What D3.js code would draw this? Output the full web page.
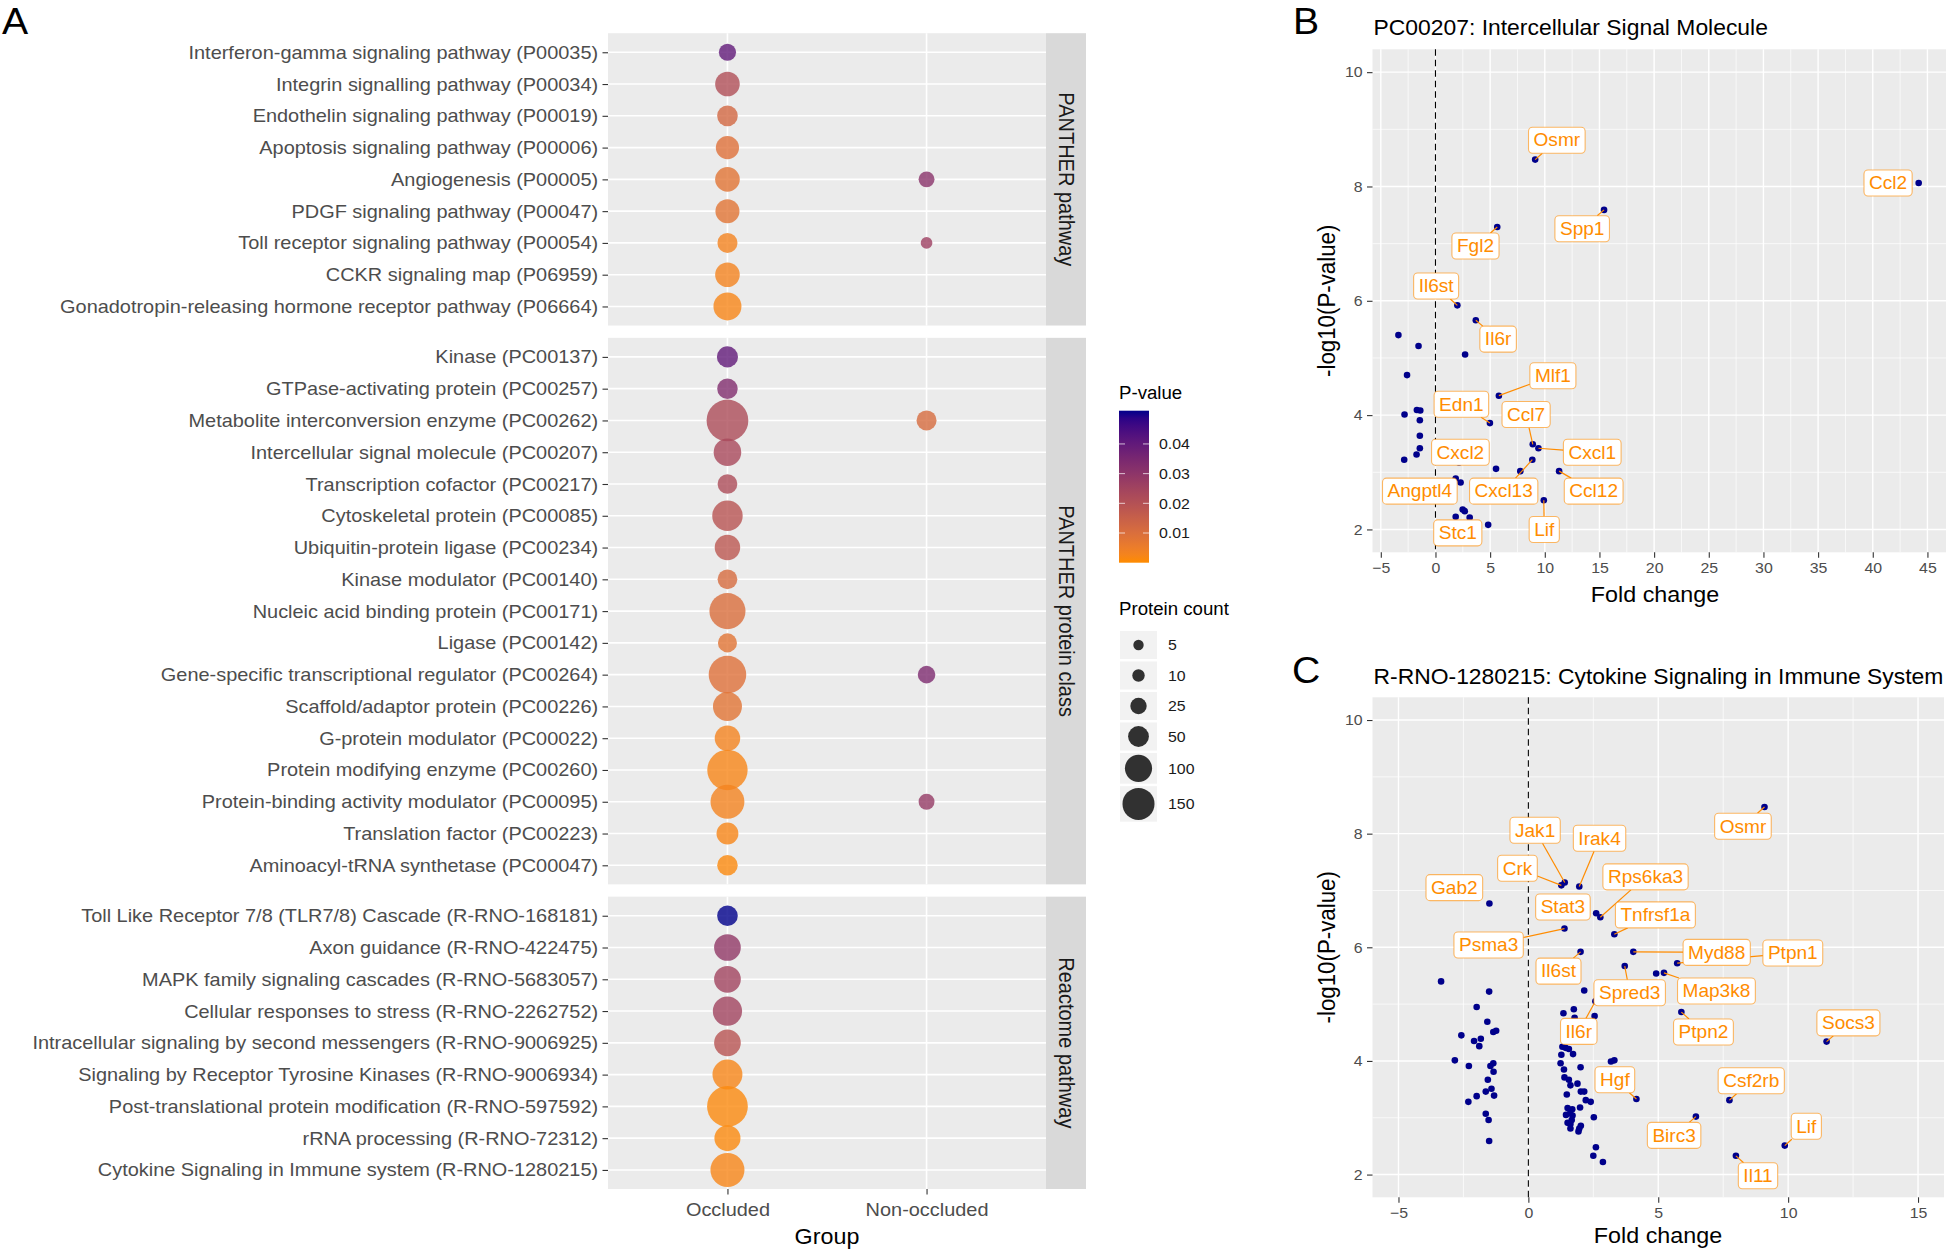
<!DOCTYPE html>
<html><head><meta charset="utf-8">
<script src="https://cdn.jsdelivr.net/npm/d3@7"></script>
<style>body{margin:0;background:#fff}svg{display:block}</style>
</head><body>
<svg id="chart" width="1946" height="1252"></svg>
<script>
// ================= DATA =================
const groups = ["Occluded", "Non-occluded"];
const facetNames = ["PANTHER pathway", "PANTHER protein class", "Reactome pathway"];

const pathwayTerms = [
  "Interferon-gamma signaling pathway (P00035)",
  "Integrin signalling pathway (P00034)",
  "Endothelin signaling pathway (P00019)",
  "Apoptosis signaling pathway (P00006)",
  "Angiogenesis (P00005)",
  "PDGF signaling pathway (P00047)",
  "Toll receptor signaling pathway (P00054)",
  "CCKR signaling map (P06959)",
  "Gonadotropin-releasing hormone receptor pathway (P06664)"
];
const pathwayOccCount = [29, 78, 49, 67, 78, 73, 45, 78, 108];
const pathwayOccP = [0.040, 0.021, 0.012, 0.009, 0.008, 0.008, 0.003, 0.003, 0.002];
const pathwayNonTerms = ["Angiogenesis (P00005)", "Toll receptor signaling pathway (P00054)"];
const pathwayNonCount = [23, 8];
const pathwayNonP = [0.031, 0.026];

const classTerms = [
  "Kinase (PC00137)",
  "GTPase-activating protein (PC00257)",
  "Metabolite interconversion enzyme (PC00262)",
  "Intercellular signal molecule (PC00207)",
  "Transcription cofactor (PC00217)",
  "Cytoskeletal protein (PC00085)",
  "Ubiquitin-protein ligase (PC00234)",
  "Kinase modulator (PC00140)",
  "Nucleic acid binding protein (PC00171)",
  "Ligase (PC00142)",
  "Gene-specific transcriptional regulator (PC00264)",
  "Scaffold/adaptor protein (PC00226)",
  "G-protein modulator (PC00022)",
  "Protein modifying enzyme (PC00260)",
  "Protein-binding activity modulator (PC00095)",
  "Translation factor (PC00223)",
  "Aminoacyl-tRNA synthetase (PC00047)"
];
const classOccCount = [52, 48, 281, 104, 43, 133, 85, 43, 200, 39, 220, 118, 85, 260, 173, 57, 48];
const classOccP = [0.040, 0.033, 0.022, 0.023, 0.022, 0.019, 0.018, 0.011, 0.010, 0.008, 0.009, 0.008, 0.003, 0.002, 0.003, 0.002, 0.001];
const classNonTerms = ["Metabolite interconversion enzyme (PC00262)", "Gene-specific transcriptional regulator (PC00264)", "Protein-binding activity modulator (PC00095)"];
const classNonCount = [45, 31, 23];
const classNonP = [0.011, 0.034, 0.028];

const reactomeTerms = [
  "Toll Like Receptor 7/8 (TLR7/8) Cascade (R-RNO-168181)",
  "Axon guidance (R-RNO-422475)",
  "MAPK family signaling cascades (R-RNO-5683057)",
  "Cellular responses to stress (R-RNO-2262752)",
  "Intracellular signaling by second messengers (R-RNO-9006925)",
  "Signaling by Receptor Tyrosine Kinases (R-RNO-9006934)",
  "Post-translational protein modification (R-RNO-597592)",
  "rRNA processing (R-RNO-72312)",
  "Cytokine Signaling in Immune system (R-RNO-1280215)"
];
const reactomeOccCount = [49, 96, 96, 121, 96, 128, 266, 90, 174];
const reactomeOccP = [0.0512, 0.029, 0.025, 0.025, 0.019, 0.002, 0.001, 0.001, 0.002];
const reactomeNonTerms = [];
const reactomeNonCount = [];
const reactomeNonP = [];

const sizeBreaks = [5, 10, 25, 50, 100, 150];
const pBreaks = [0.01, 0.02, 0.03, 0.04];

// ---- Panel B ----
const bTitle = "PC00207: Intercellular Signal Molecule";
const bGenes = ["Osmr","Ccl2","Spp1","Fgl2","Il6st","Il6r","Mlf1","Edn1","Ccl7","Cxcl1","Cxcl2","Angptl4","Cxcl13","Ccl12","Lif","Stc1"];
const bGeneFold = [9.12, 44.2, 15.42, 5.65, 2.0, 3.69, 5.80, 4.98, 8.9, 9.42, 2.15, 2.30, 8.86, 11.31, 9.91, 1.85];
const bGeneLogP = [8.47, 8.06, 7.59, 7.29, 5.92, 5.66, 4.34, 3.86, 3.49, 3.42, 3.17, 2.82, 3.22, 3.02, 2.51, 2.22];
const bLabelFold = [11.1, 41.4, 13.42, 3.66, 0.06, 5.73, 10.74, 2.37, 8.29, 14.34, 2.28, -1.43, 6.24, 14.47, 9.95, 2.04];
const bLabelLogP = [8.81, 8.06, 7.26, 6.96, 6.26, 5.33, 4.69, 4.19, 4.01, 3.35, 3.35, 2.67, 2.67, 2.67, 2.0, 1.94];
const bOtherFold = [-3.39, -1.55, 2.71, -2.6, -1.70, -1.39, -2.83, -1.43, -1.43, -1.43, -1.73, -2.86, 5.54, 7.76, 1.85, 2.49, 2.68, 3.13, 4.82];
const bOtherLogP = [5.40, 5.21, 5.06, 4.70, 4.09, 4.08, 4.01, 3.91, 3.64, 3.42, 3.31, 3.22, 3.06, 3.02, 2.89, 2.35, 2.32, 2.21, 2.08];
const bXTicks = [-5, 0, 5, 10, 15, 20, 25, 30, 35, 40, 45];
const yTicks = [2, 4, 6, 8, 10];

// ---- Panel C ----
const cTitle = "R-RNO-1280215: Cytokine Signaling in Immune System";
const cGenes = ["Osmr","Jak1","Irak4","Crk","Gab2","Rps6ka3","Stat3","Tnfrsf1a","Psma3","Myd88","Ptpn1","Il6st","Spred3","Map3k8","Il6r","Ptpn2","Socs3","Hgf","Csf2rb","Birc3","Lif","Il11"];
const cGeneFold = [9.09, 1.40, 1.96, 1.27, -1.50, 2.77, 2.61, 3.31, 1.39, 4.04, 5.73, 2.01, 3.71, 5.22, 2.58, 5.89, 11.48, 4.16, 7.74, 6.45, 9.87, 7.99];
const cGeneLogP = [8.47, 7.14, 7.07, 7.09, 6.77, 6.53, 6.60, 6.23, 6.33, 5.92, 5.72, 5.92, 5.67, 5.55, 5.05, 4.86, 4.34, 3.33, 3.31, 3.02, 2.51, 2.33];
const cLabelFold = [8.26, 0.26, 2.74, -0.42, -2.85, 4.51, 1.33, 4.89, -1.53, 7.25, 10.18, 1.16, 3.90, 7.24, 1.94, 6.74, 12.32, 3.33, 8.58, 5.61, 10.70, 8.84];
const cLabelLogP = [8.13, 8.06, 7.92, 7.39, 7.05, 7.24, 6.71, 6.57, 6.04, 5.91, 5.90, 5.58, 5.20, 5.23, 4.52, 4.51, 4.67, 3.67, 3.65, 2.69, 2.85, 1.98];
const cOtherFold = [4.92, -3.36, -1.51, 2.15, -1.99, 1.75, 1.35, 2.55, 1.78, -1.58, -2.58, -1.35, -1.24, -2.09, -1.83, -1.89, 1.31, 1.43, 1.56, 1.27, 1.24, 1.72, -2.83, 3.18, 3.31, -2.29, -1.35, -1.46, -1.34, 2.01, 1.37, 1.39, 1.56, 1.62, -1.56, 1.89, -1.64, -1.42, 2.02, 2.15, -1.32, 1.48, -1.99, 2.21, 2.40, -2.31, 1.51, 1.69, 1.99, 1.45, 1.61, 1.70, -1.64, -1.53, 2.52, 1.51, 1.62, 1.67, 2.02, 1.96, 1.93, 1.62, -1.51, 2.6, 2.5, 2.87];
const cOtherLogP = [5.54, 5.40, 5.22, 5.24, 4.95, 4.91, 4.84, 4.79, 4.76, 4.69, 4.45, 4.51, 4.53, 4.35, 4.39, 4.26, 4.25, 4.23, 4.21, 4.11, 3.96, 4.12, 4.01, 3.99, 4.01, 3.91, 3.96, 3.91, 3.81, 3.89, 3.85, 3.71, 3.67, 3.57, 3.67, 3.60, 3.46, 3.51, 3.46, 3.46, 3.39, 3.41, 3.38, 3.31, 3.28, 3.28, 3.17, 3.15, 3.18, 3.05, 3.08, 3.04, 3.07, 2.96, 3.01, 2.91, 2.89, 2.96, 2.86, 2.81, 2.76, 2.81, 2.59, 2.48, 2.33, 2.22];
const cXTicks = [-5, 0, 5, 10, 15];

// ================= RENDER =================
const SX = 1.06;
const FONT = "'Liberation Sans', Arial, Helvetica, sans-serif";
const svg = d3.select("#chart");
const ORANGE = "#FF8C00";

function addText(parent, x, y, str, o = {}) {
  const t = parent.append("text")
    .attr("transform", `translate(${x},${y}) scale(${SX},1)` + (o.rot ? ` rotate(${o.rot})` : ""))
    .attr("font-family", FONT).attr("font-size", o.size || 15)
    .attr("fill", o.fill || "#000")
    .attr("text-anchor", o.anchor || "start")
    .text(str);
  if (o.dy) t.attr("dy", o.dy);
  return t;
}
function styleAxis(g, size, fill) {
  g.select(".domain").remove();
  g.selectAll(".tick line").attr("stroke", "#333333").attr("stroke-width", 1.1);
  g.selectAll("text").each(function () {
    const t = d3.select(this);
    const x = +t.attr("x") || 0, y = +t.attr("y") || 0;
    t.attr("x", null).attr("y", null)
      .attr("transform", `translate(${x},${y}) scale(${SX},1)`)
      .attr("font-size", size).attr("fill", fill).attr("font-family", FONT);
  });
}

// ---------- Panel A ----------
const color = d3.scaleLinear().domain([0, 0.0512]).range([ORANGE, "#00008B"]).interpolate(d3.interpolateLab);
const rSize = d3.scaleSqrt().domain([5, 150]).range([5.2, 16.0]);

const facets = [
  { name: facetNames[0], terms: pathwayTerms, occC: pathwayOccCount, occP: pathwayOccP, nonT: pathwayNonTerms, nonC: pathwayNonCount, nonP: pathwayNonP },
  { name: facetNames[1], terms: classTerms, occC: classOccCount, occP: classOccP, nonT: classNonTerms, nonC: classNonCount, nonP: classNonP },
  { name: facetNames[2], terms: reactomeTerms, occC: reactomeOccCount, occP: reactomeOccP, nonT: reactomeNonTerms, nonC: reactomeNonCount, nonP: reactomeNonP }
];
const aLeft = 608, aRight = 1046, stripW = 40;
const aTop = 33.2, aBottom = 1189, aGap = 12.3;
const unit = (aBottom - aTop - 2 * aGap) / d3.sum(facets, f => f.terms.length + 0.2);
const xA = d3.scalePoint().domain(groups).range([aLeft, aRight]).padding(0.6);

const gA = svg.append("g");
let yCursor = aTop;
facets.forEach(f => {
  const h = (f.terms.length + 0.2) * unit;
  const yF = d3.scalePoint().domain(f.terms).range([yCursor, yCursor + h]).padding(0.6);
  const g = gA.append("g");
  g.append("rect").attr("x", aLeft).attr("y", yCursor).attr("width", aRight - aLeft).attr("height", h).attr("fill", "#EBEBEB");
  g.selectAll(".hg").data(f.terms).join("line")
    .attr("x1", aLeft).attr("x2", aRight).attr("y1", d => yF(d)).attr("y2", d => yF(d))
    .attr("stroke", "#fff").attr("stroke-width", 1.6);
  g.selectAll(".vg").data(groups).join("line")
    .attr("x1", d => xA(d)).attr("x2", d => xA(d)).attr("y1", yCursor).attr("y2", yCursor + h)
    .attr("stroke", "#fff").attr("stroke-width", 1.6);
  g.selectAll(".occ").data(f.terms.map((t, i) => ({ t, c: f.occC[i], p: f.occP[i] }))).join("circle")
    .attr("cx", xA("Occluded")).attr("cy", d => yF(d.t)).attr("r", d => rSize(d.c))
    .attr("fill", d => color(d.p)).attr("fill-opacity", 0.8);
  g.selectAll(".non").data(f.nonT.map((t, i) => ({ t, c: f.nonC[i], p: f.nonP[i] }))).join("circle")
    .attr("cx", xA("Non-occluded")).attr("cy", d => yF(d.t)).attr("r", d => rSize(d.c))
    .attr("fill", d => color(d.p)).attr("fill-opacity", 0.8);
  g.append("rect").attr("x", aRight).attr("y", yCursor).attr("width", stripW).attr("height", h).attr("fill", "#D9D9D9");
  addText(g, aRight + stripW / 2, yCursor + h / 2, f.name, { size: 20, fill: "#1A1A1A", anchor: "middle", rot: 90, dy: "0.35em" });
  const ax = g.append("g").attr("transform", `translate(${aLeft},0)`)
    .call(d3.axisLeft(yF).tickSize(5.5).tickPadding(4.4));
  styleAxis(ax, 18.8, "#4D4D4D");
  yCursor += h + aGap;
});
const axA = gA.append("g").attr("transform", `translate(0,${aBottom})`)
  .call(d3.axisBottom(xA).tickSize(5.5).tickPadding(8.5));
styleAxis(axA, 18.8, "#4D4D4D");
addText(gA, (aLeft + aRight) / 2, 1244, "Group", { size: 22, anchor: "middle" });
addText(svg, 2, 34, "A", { size: 37 });

// ---------- Legends ----------
const gL = svg.append("g");
addText(gL, 1119, 399, "P-value", { size: 17.6 });
const barTop = 410.7, barBot = 562.7, barX = 1119, barW = 30;
const grad = svg.append("defs").append("linearGradient").attr("id", "pgrad")
  .attr("x1", 0).attr("y1", 1).attr("x2", 0).attr("y2", 0);
d3.range(0, 1.0001, 0.05).forEach(t => grad.append("stop").attr("offset", t).attr("stop-color", color(t * 0.0512)));
gL.append("rect").attr("x", barX).attr("y", barTop).attr("width", barW).attr("height", barBot - barTop).attr("fill", "url(#pgrad)");
const yBar = d3.scaleLinear().domain([0, 0.0512]).range([barBot, barTop]);
pBreaks.forEach(p => {
  gL.append("line").attr("x1", barX).attr("x2", barX + 6).attr("y1", yBar(p)).attr("y2", yBar(p)).attr("stroke", "#fff").attr("stroke-opacity", 0.7).attr("stroke-width", 1);
  gL.append("line").attr("x1", barX + barW - 6).attr("x2", barX + barW).attr("y1", yBar(p)).attr("y2", yBar(p)).attr("stroke", "#fff").attr("stroke-opacity", 0.7).attr("stroke-width", 1);
  addText(gL, 1159, yBar(p), d3.format(".2f")(p), { size: 15, dy: "0.35em", fill: "#1A1A1A" });
});
addText(gL, 1119, 615, "Protein count", { size: 17.6 });
let ky = 631;
sizeBreaks.forEach(s => {
  const d = 2 * rSize(s);
  const kh = Math.max(28, d + 3.5);
  gL.append("rect").attr("x", 1120).attr("y", ky).attr("width", 37).attr("height", kh).attr("fill", "#F2F2F2");
  gL.append("circle").attr("cx", 1138.5).attr("cy", ky + kh / 2).attr("r", rSize(s)).attr("fill", "#000").attr("fill-opacity", 0.8);
  addText(gL, 1168, ky + kh / 2, String(s), { size: 15, dy: "0.35em", fill: "#1A1A1A" });
  ky += kh + 2.5;
});

// ---------- Volcano panels ----------
function volcano(o) {
  const g = svg.append("g");
  const x = d3.scaleLinear().domain(o.xDom).range([o.left, o.right]);
  const y = d3.scaleLinear().domain([1.6, 10.4]).range([o.bottom, o.top]);
  g.append("rect").attr("x", o.left).attr("y", o.top).attr("width", o.right - o.left).attr("height", o.bottom - o.top).attr("fill", "#EBEBEB");
  const xMinor = o.xTicks.slice(0, -1).map((t, i) => (t + o.xTicks[i + 1]) / 2)
    .concat([o.xTicks[o.xTicks.length - 1] + 2.5, o.xTicks[0] - 2.5])
    .filter(v => v > o.xDom[0] && v < o.xDom[1]);
  const yMinor = [3, 5, 7, 9];
  g.selectAll(".xm").data(xMinor).join("line").attr("x1", d => x(d)).attr("x2", d => x(d)).attr("y1", o.top).attr("y2", o.bottom).attr("stroke", "#fff").attr("stroke-width", 0.7);
  g.selectAll(".ym").data(yMinor).join("line").attr("y1", d => y(d)).attr("y2", d => y(d)).attr("x1", o.left).attr("x2", o.right).attr("stroke", "#fff").attr("stroke-width", 0.7);
  g.selectAll(".xM").data(o.xTicks).join("line").attr("x1", d => x(d)).attr("x2", d => x(d)).attr("y1", o.top).attr("y2", o.bottom).attr("stroke", "#fff").attr("stroke-width", 1.4);
  g.selectAll(".yM").data(yTicks).join("line").attr("y1", d => y(d)).attr("y2", d => y(d)).attr("x1", o.left).attr("x2", o.right).attr("stroke", "#fff").attr("stroke-width", 1.4);
  g.append("line").attr("x1", x(0)).attr("x2", x(0)).attr("y1", o.top).attr("y2", o.bottom)
    .attr("stroke", "#000").attr("stroke-width", 1.1).attr("stroke-dasharray", "6.5,4");
  const pts = o.oFold.map((v, i) => ({ f: v, l: o.oLogP[i] }))
    .concat(o.gFold.map((v, i) => ({ f: v, l: o.gLogP[i] })));
  g.selectAll(".pt").data(pts).join("circle").attr("cx", d => x(d.f)).attr("cy", d => y(d.l)).attr("r", 3.3).attr("fill", "#00008B");
  const labs = o.genes.map((n, i) => ({ n, px: x(o.gFold[i]), py: y(o.gLogP[i]), cx: x(o.lFold[i]), cy: y(o.lLogP[i]) }));
  const lg = g.append("g");
  const segG = lg.append("g"), boxG = lg.append("g");
  labs.forEach(d => {
    const t = addText(boxG, d.cx, d.cy, d.n, { size: 18, fill: ORANGE, anchor: "middle", dy: "0.35em" });
    d.w = t.node().getComputedTextLength() * SX + 10;
    d.h = 26;
    t.remove();
  });
  labs.forEach(d => {
    const dx = d.px - d.cx, dy = d.py - d.cy;
    const tt = Math.min(Math.abs(dx) > 1e-6 ? (d.w / 2) / Math.abs(dx) : Infinity, Math.abs(dy) > 1e-6 ? (d.h / 2) / Math.abs(dy) : Infinity);
    if (tt >= 1) return;
    const sx = d.cx + dx * tt, sy = d.cy + dy * tt;
    if (Math.hypot(d.px - sx, d.py - sy) < 8) return;
    segG.append("line").attr("x1", sx).attr("y1", sy).attr("x2", d.px).attr("y2", d.py).attr("stroke", ORANGE).attr("stroke-width", 1.2);
  });
  labs.forEach(d => {
    boxG.append("rect").attr("x", d.cx - d.w / 2).attr("y", d.cy - d.h / 2).attr("width", d.w).attr("height", d.h)
      .attr("rx", 4).attr("fill", "#fff").attr("stroke", ORANGE).attr("stroke-opacity", 0.6).attr("stroke-width", 1.1);
    addText(boxG, d.cx, d.cy, d.n, { size: 18, fill: ORANGE, anchor: "middle", dy: "0.35em" });
  });
  const ax = g.append("g").attr("transform", `translate(0,${o.bottom})`).call(d3.axisBottom(x).tickValues(o.xTicks).tickFormat(d3.format("d")).tickSize(5.5).tickPadding(4.4));
  styleAxis(ax, 15, "#4D4D4D");
  const ay = g.append("g").attr("transform", `translate(${o.left},0)`).call(d3.axisLeft(y).tickValues(yTicks).tickFormat(d3.format("d")).tickSize(5.5).tickPadding(4.4));
  styleAxis(ay, 15, "#4D4D4D");
  addText(g, o.left + 1, o.titleY, o.title, { size: 21.6 });
  addText(g, o.xTitleX, o.xTitleY, "Fold change", { size: 22, anchor: "middle" });
  addText(g, 1335, (o.top + o.bottom) / 2, "-log10(P-value)", { size: 22.3, anchor: "middle", rot: -90 });
  addText(g, o.letterX, o.letterY, o.letter, { size: 37 });
}

volcano({
  title: bTitle, letter: "B", letterX: 1293, letterY: 34, titleY: 35,
  xDom: [-5.76, 46.79], left: 1372.5, right: 1947, top: 49.3, bottom: 552.3,
  xTicks: bXTicks, xTitleX: 1655, xTitleY: 601.5,
  genes: bGenes, gFold: bGeneFold, gLogP: bGeneLogP, lFold: bLabelFold, lLogP: bLabelLogP,
  oFold: bOtherFold, oLogP: bOtherLogP
});
volcano({
  title: cTitle, letter: "C", letterX: 1292, letterY: 683, titleY: 684,
  xDom: [-6, 16], left: 1372.5, right: 1944, top: 697.3, bottom: 1197.3,
  xTicks: cXTicks, xTitleX: 1658, xTitleY: 1243,
  genes: cGenes, gFold: cGeneFold, gLogP: cGeneLogP, lFold: cLabelFold, lLogP: cLabelLogP,
  oFold: cOtherFold, oLogP: cOtherLogP
});
</script>
</body></html>
